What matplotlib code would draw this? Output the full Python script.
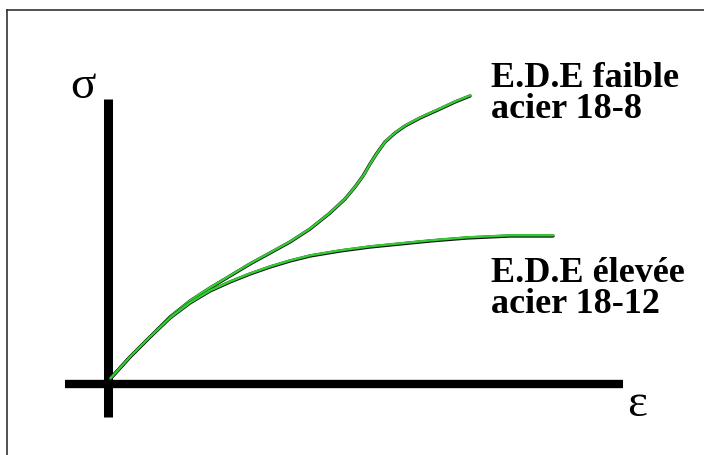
import matplotlib.pyplot as plt
from matplotlib.lines import Line2D
import matplotlib.transforms as mtransforms

# strain / stress (arbitrary units)
eps_faible = [0, 2, 4, 6, 8, 10, 12, 14, 16, 18, 20, 22, 23.5, 24.5, 25.3, 26,
              26.7, 27.5, 28.5, 29.5, 31, 33, 34.5, 36]
sig_faible = [0, 2.2, 4.2, 6.2, 7.8, 9.1, 10.3, 11.5, 12.6, 13.7, 15.0, 16.6, 18.0,
              19.2, 20.3, 21.5, 22.6, 23.7, 24.6, 25.3, 26.1, 27.0, 27.7, 28.3]
eps_elevee = [0, 2, 4, 6, 8, 10, 12, 14, 16, 18, 20, 23, 26, 29, 32, 35.7, 40, 44.3]
sig_elevee = [0, 2.2, 4.2, 6.1, 7.6, 8.8, 9.7, 10.5, 11.2, 11.8, 12.3, 12.8, 13.2,
              13.5, 13.8, 14.1, 14.3, 14.3]

labels_faible = ["E.D.E faible", "acier 18-8"]
labels_elevee = ["E.D.E élevée", "acier 18-12"]

green = '#33cc33'
serif = ['Liberation Serif', 'DejaVu Serif']

fig = plt.figure(figsize=(7.04, 4.56), dpi=100)
ax = fig.add_axes([0, 0, 1, 1])
ax.set_xlim(-11, 59.4)
ax.set_ylim(-7.6, 38.0)
ax.axis('off')

# axes of the sketch
ax.plot([-0.2, -0.2], [-3.8, 28.0], color='black', lw=6.5, solid_capstyle='butt')
ax.plot([-4.5, 51.3], [-0.5, -0.5], color='black', lw=6.0, solid_capstyle='butt')

# curves: dark stroke with green over it
shift = mtransforms.offset_copy(ax.transData, fig=fig, x=0.5, y=0.7, units='dots')
for e, s in [(eps_faible, sig_faible), (eps_elevee, sig_elevee)]:
    ax.plot(e, s, color='#111111', lw=2.4, solid_capstyle='round', solid_joinstyle='round')
    ax.plot(e, s, color=green, lw=1.7, transform=shift, solid_capstyle='round',
            solid_joinstyle='round')

ax.text(-2.7, 29.3, 'σ', family=serif, fontsize=34, ha='center', va='center')
ax.text(52.7, -2.5, 'ε', family=serif, fontsize=34, ha='center', va='center')

ax.text(38.1, 29.3, labels_faible[0], family=serif, weight='bold', fontsize=26, va='baseline')
ax.text(38.1, 26.2, labels_faible[1], family=serif, weight='bold', fontsize=26, va='baseline')
ax.text(38.1, 9.8, labels_elevee[0], family=serif, weight='bold', fontsize=26, va='baseline')
ax.text(38.1, 6.7, labels_elevee[1], family=serif, weight='bold', fontsize=26, va='baseline')

# frame edge at top and left
fig.add_artist(Line2D([7 / 704, 1], [1 - 11 / 456, 1 - 11 / 456], color='#333333', lw=1.2))
fig.add_artist(Line2D([7 / 704, 7 / 704], [0, 1 - 11 / 456], color='#333333', lw=1.2))

fig.savefig('out.png', dpi=100, facecolor='white')
